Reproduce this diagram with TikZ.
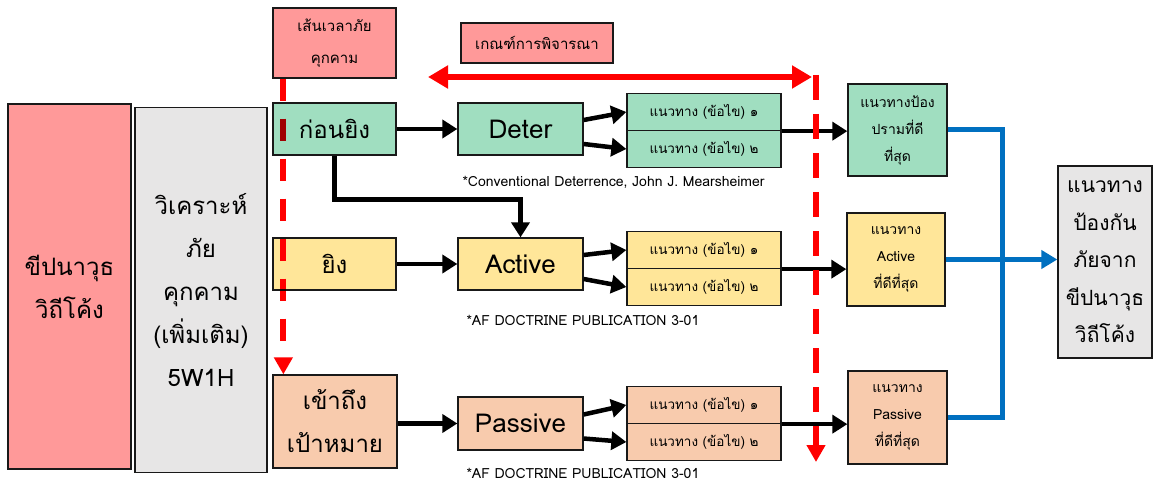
\documentclass[tikz,border=0pt]{standalone}
\usepackage{fontspec}
\setmainfont{Loma}[Script=Thai]
\usetikzlibrary{arrows.meta,calc,positioning}
\tikzset{>=stealth}
\definecolor{misred}{HTML}{FF9999}
\definecolor{anagray}{HTML}{E7E6E6}
\definecolor{pregreen}{HTML}{A0DEC0}
\definecolor{fireyellow}{HTML}{FFE699}
\definecolor{reachpeach}{HTML}{F8CBAD}
\definecolor{bestblue}{HTML}{0070C0}

\begin{document}
\begin{tikzpicture}[x=1pt,y=-1pt,
  box/.style={draw=black!90,line width=1.3pt,align=center,inner sep=0pt},
  bigtxt/.style={font=\fontsize{24}{43}\selectfont},
  endtxt/.style={font=\fontsize{21}{37.5}\selectfont},
  midtxt/.style={font=\fontsize{15}{32}\selectfont},
  opttxt/.style={font=\fontsize{13.5}{16}\selectfont},
  besttxt/.style={font=\fontsize{14}{27}\selectfont},
  modetxt/.style={font=\fontsize{26}{30}\selectfont},
  captxt/.style={font=\fontsize{14}{16}\selectfont,anchor=west},
  flow/.style={line width=4.5pt,-{Triangle[length=15pt,width=18pt]}},
  bestline/.style={draw=bestblue,line width=5pt},
  timeline/.style={draw=red,line width=6pt,dash pattern=on 22pt off 18pt,-{Triangle[length=17pt,width=18pt]}},
  critarrow/.style={draw=red,line width=6pt,{Triangle[length=20pt,width=22pt]}-{Triangle[length=20pt,width=22pt]}}]
\useasboundingbox (0,0) rectangle (1153,484);

% left columns
\node[box,fill=misred,minimum width=123pt,minimum height=365pt,bigtxt] (missile) at (69.5,286.5) {ขีปนาวุธ\\วิถีโค้ง};
\node[box,fill=anagray,minimum width=132pt,minimum height=365pt,bigtxt] (analysis) at (201,290) {วิเคราะห์\\ภัย\\คุกคาม\\(เพิ่มเติม)\\5W1H};

% headers
\node[box,fill=misred,minimum width=123pt,minimum height=70pt,midtxt] (tl) at (334.5,43) {เส้นเวลาภัย\\คุกคาม};
\node[box,fill=misred,minimum width=152pt,minimum height=40pt,midtxt] (crit) at (537,43) {เกณฑ์การพิจารณา};

% phases
\node[box,fill=pregreen,minimum width=123pt,minimum height=52pt,bigtxt] (pre) at (334.5,129) {ก่อนยิง};
\node[box,fill=fireyellow,minimum width=123pt,minimum height=52pt,bigtxt] (fire) at (334.5,264) {ยิง};
\node[box,fill=reachpeach,minimum width=124pt,minimum height=93pt,bigtxt] (reach) at (335,421.5) {เข้าถึง\\เป้าหมาย};

% modes
\node[box,fill=pregreen,minimum width=125pt,minimum height=52pt,modetxt] (deter) at (520.5,129) {Deter};
\node[box,fill=fireyellow,minimum width=125pt,minimum height=52pt,modetxt] (active) at (520.5,264) {Active};
\node[box,fill=reachpeach,minimum width=125pt,minimum height=53pt,modetxt] (passive) at (520.5,423.5) {Passive};

% options
\node[box,fill=pregreen,minimum width=154pt,minimum height=37pt,opttxt] (d1) at (704,112) {แนวทาง (ข้อไข) ๑};
\node[box,fill=pregreen,minimum width=154pt,minimum height=37pt,opttxt] (d2) at (704,149) {แนวทาง (ข้อไข) ๒};
\node[box,fill=fireyellow,minimum width=154pt,minimum height=37pt,opttxt] (a1) at (704,250) {แนวทาง (ข้อไข) ๑};
\node[box,fill=fireyellow,minimum width=154pt,minimum height=37pt,opttxt] (a2) at (704,287) {แนวทาง (ข้อไข) ๒};
\node[box,fill=reachpeach,minimum width=154pt,minimum height=37pt,opttxt] (p1) at (704,405) {แนวทาง (ข้อไข) ๑};
\node[box,fill=reachpeach,minimum width=154pt,minimum height=37pt,opttxt] (p2) at (704,442) {แนวทาง (ข้อไข) ๒};

% sources
\node[captxt] (capdeter) at (459,182) {*Conventional Deterrence, John J. Mearsheimer};
\node[captxt] (capactive) at (463,320) {*AF DOCTRINE PUBLICATION 3-01};
\node[captxt] (cappassive) at (463,473) {*AF DOCTRINE PUBLICATION 3-01};

% best options
\node[box,fill=pregreen,minimum width=99pt,minimum height=92pt,besttxt] (bd) at (897.5,130) {แนวทางป้อง\\ปรามที่ดี\\ที่สุด};
\node[box,fill=fireyellow,minimum width=98pt,minimum height=93pt,besttxt] (ba) at (896,259.5) {แนวทาง\\Active\\ที่ดีที่สุด};
\node[box,fill=reachpeach,minimum width=99pt,minimum height=93pt,besttxt] (bp) at (897.5,417.5) {แนวทาง\\Passive\\ที่ดีที่สุด};
\node[box,fill=anagray,minimum width=94pt,minimum height=192pt,endtxt] (final) at (1105,262) {แนวทาง\\ป้องกัน\\ภัยจาก\\ขีปนาวุธ\\วิถีโค้ง};

% black flow
\draw[flow] (pre.east) -- (deter.west);
\draw[flow] (fire.east) -- (active.west);
\draw[flow] (reach.east |- passive.west) -- (passive.west);
\draw[flow] (pre.south) -- ++(0,44) -| (active.north);
\draw[flow] ($(deter.east)+(0,-9)$) -- (d1.west);
\draw[flow] ($(deter.east)+(0,15)$) -- (d2.west);
\draw[flow] ($(active.east)+(0,-9)$) -- (a1.west);
\draw[flow] ($(active.east)+(0,15)$) -- (a2.west);
\draw[flow] ($(passive.east)+(0,-9)$) -- (p1.west);
\draw[flow] ($(passive.east)+(0,15)$) -- (p2.west);
\draw[flow] (d1.south east) -- (bd.west |- d1.south east);
\draw[flow] (a1.south east) -- (ba.west |- a1.south east);
\draw[flow] (p1.south east) -- (bp.west |- p1.south east);

% blue merge
\draw[bestline] (bd.east) -- ++(55,0) |- (bp.east);
\draw[bestline,-{Triangle[length=16pt,width=18pt]}] (ba.east) -- (final.west |- ba.east);

% red time line and criteria span
\coordinate (critL) at (428,77);
\coordinate (critR) at (812,77);
\draw[critarrow] (critL) -- (critR);
\draw[timeline,blend mode=multiply] ($(tl.south west)+(11,0)$) -- ($(reach.north west)+(11,0)$);
\coordinate (spanTop) at (816,75);
\coordinate (spanEnd) at (816,462);
\draw[timeline,dash pattern=on 25pt off 14pt] (spanTop) -- (spanEnd);
\end{tikzpicture}
\end{document}
